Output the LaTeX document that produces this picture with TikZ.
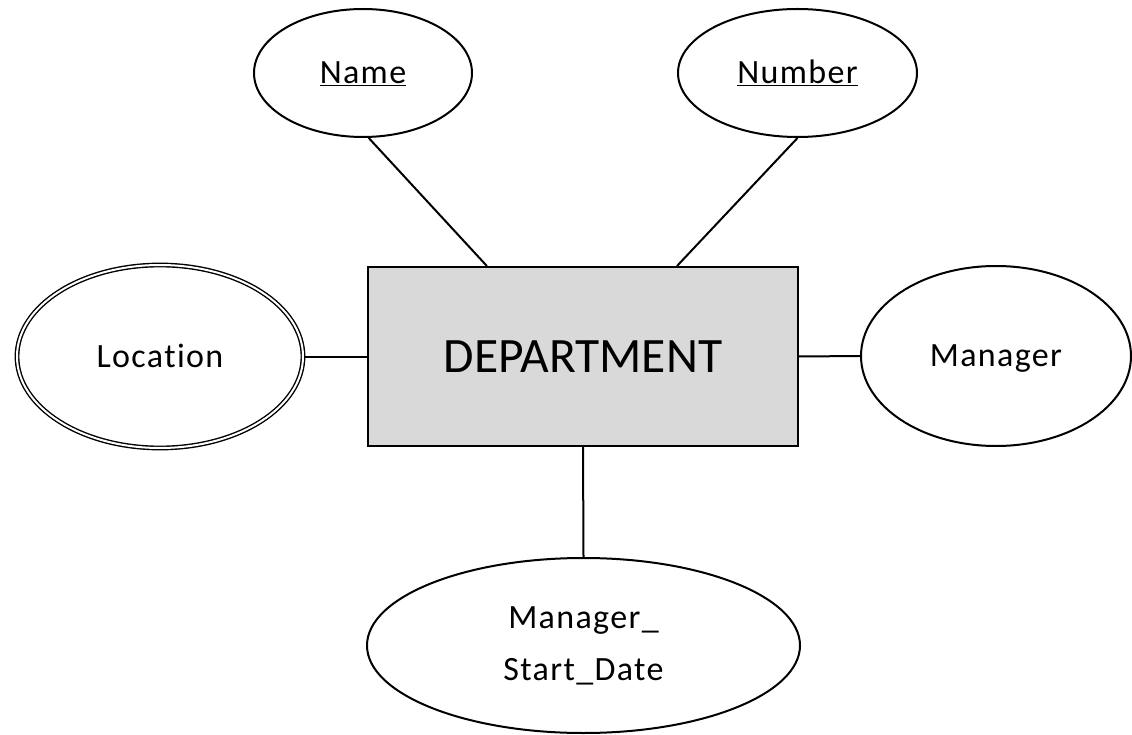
\documentclass[tikz,border=0pt]{standalone}
\usepackage{fontspec}
\setmainfont{Carlito}
\newfontfamily\attrfont{Carlito}[LetterSpace=4,Ligatures=NoCommon]
\usetikzlibrary{shapes.geometric,calc}
\definecolor{entfill}{HTML}{D9D9D9}
\begin{document}
\begin{tikzpicture}[x=1pt,y=-1pt,
  attrbase/.style={ellipse,draw=black,line width=2pt,inner sep=0pt,fill=white,
    font=\attrfont\fontsize{34}{52}\selectfont,align=center},
  attr/.style={attrbase,text height=21.4pt,text depth=0pt},
  multiattr/.style={attr,line width=1.4pt,double=white,double distance=2pt},
  entity/.style={rectangle,draw=black,line width=2pt,fill=entfill,inner sep=0pt,
    font=\fontsize{49.5}{60}\selectfont},
  link/.style={draw=black,line width=2pt}]
\useasboundingbox (0,0) rectangle (1132,735);
\node[entity,minimum width=430pt,minimum height=179pt] (dept) at (583,356.5) {DEPARTMENT};
\node[attr,minimum width=218pt,minimum height=128pt] (name) at (363,73) {\underline{Name}};
\node[attr,minimum width=239pt,minimum height=128pt] (number) at (797.5,73) {\underline{Number}};
\node[multiattr,minimum width=286pt,minimum height=183pt] (location) at (160,356.5) {Location};
\node[attr,minimum width=270pt,minimum height=180pt] (manager) at (996,356) {Manager};
\node[attrbase,minimum width=433pt,minimum height=175pt] (msd) at (583.5,645.5) {Manager\_\\Start\_Date};
\draw[link] (name.-85) -- ($(dept.north west)!0.2775!(dept.north east)$);
\draw[link] (number.south) -- ($(dept.north west)!0.7176!(dept.north east)$);
\draw[link] (location.east) -- (dept.west);
\draw[link] (dept.east) -- (manager.west);
\draw[link] (dept.south) -- (msd.north);
\end{tikzpicture}
\end{document}
